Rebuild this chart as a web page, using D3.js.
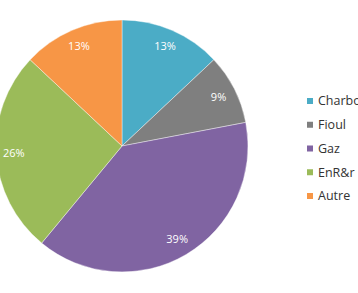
<!DOCTYPE html>
<html>
<head>
<meta charset="utf-8">
<script src="https://cdn.jsdelivr.net/npm/d3@7"></script>
<style>
  body { margin: 0; background: #fff; }
  svg { display: block; font-family: "Open Sans", sans-serif; }
</style>
</head>
<body>
<div class="chart"></div>
<script>
const categories = ["Charbon", "Fioul", "Gaz", "EnR&r", "Autre"];
const values = [13, 9, 39, 26, 13];
const colors = ["#4BACC6", "#7F7F7F", "#8064A2", "#9BBB59", "#F79646"];

const width = 358;
const height = 293;
const cx = 122;
const cy = 146;
const radius = 126;

const svg = d3
  .select(".chart")
  .append("svg")
  .attr("width", width)
  .attr("height", height);

const color = d3.scaleOrdinal().domain(categories).range(colors);

const pie = d3.pie().sort(null).value((d) => d.value);
const arcs = pie(categories.map((c, i) => ({ name: c, value: values[i] })));

const arc = d3.arc().innerRadius(0).outerRadius(radius);
const labelArc = d3.arc().innerRadius(radius * 0.86).outerRadius(radius * 0.86);

const g = svg.append("g").attr("transform", `translate(${cx},${cy})`);

g.selectAll("path")
  .data(arcs)
  .enter()
  .append("path")
  .attr("d", arc)
  .attr("fill", (d) => color(d.data.name))
  .attr("stroke", "#fff")
  .attr("stroke-width", 0.4);

g.selectAll("text")
  .data(arcs)
  .enter()
  .append("text")
  .attr("transform", (d) => `translate(${labelArc.centroid(d)})`)
  .attr("text-anchor", "middle")
  .attr("dy", "0.35em")
  .attr("fill", "#fff")
  .style("font-size", "11px")
  .text((d) => d.data.value + "%");

// legend
const legendY = d3.scalePoint().domain(categories).range([101, 196]);

const legend = svg
  .append("g")
  .selectAll("g")
  .data(categories)
  .enter()
  .append("g")
  .attr("transform", (d) => `translate(307,${legendY(d)})`);

legend
  .append("rect")
  .attr("x", 0)
  .attr("y", -3)
  .attr("width", 6)
  .attr("height", 6)
  .attr("fill", (d) => color(d));

legend
  .append("text")
  .attr("x", 11)
  .attr("dy", "0.35em")
  .attr("fill", "#333")
  .style("font-size", "12.5px")
  .text((d) => d);
</script>
</body>
</html>
